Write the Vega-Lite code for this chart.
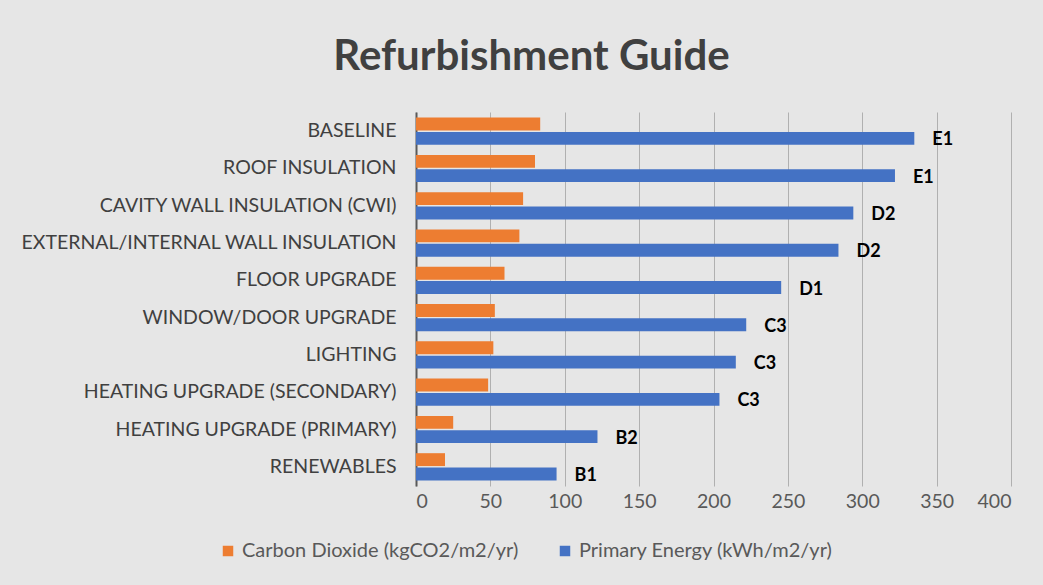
{
  "$schema": "https://vega.github.io/schema/vega-lite/v6.json",
  "autosize": {"type": "none"},
  "width": 595,
  "height": 374,
  "padding": {"left": 416, "top": 112, "right": 32, "bottom": 99},
  "background": "#e6e6e6",
  "title": {
    "text": "Refurbishment Guide",
    "font": "Lato",
    "fontSize": 42,
    "fontWeight": "bold",
    "color": "#404040",
    "anchor": "middle",
    "dx": -182,
    "baseline": "alphabetic",
    "offset": 0
  },
  "data": {
    "values": [
      {"category": "BASELINE", "series": "Carbon Dioxide (kgCO2/m2/yr)", "value": 83.5, "rating": ""},
      {"category": "BASELINE", "series": "Primary Energy (kWh/m2/yr)", "value": 335, "rating": "E1"},
      {"category": "ROOF INSULATION", "series": "Carbon Dioxide (kgCO2/m2/yr)", "value": 80, "rating": ""},
      {"category": "ROOF INSULATION", "series": "Primary Energy (kWh/m2/yr)", "value": 322, "rating": "E1"},
      {"category": "CAVITY WALL INSULATION (CWI)", "series": "Carbon Dioxide (kgCO2/m2/yr)", "value": 72, "rating": ""},
      {"category": "CAVITY WALL INSULATION (CWI)", "series": "Primary Energy (kWh/m2/yr)", "value": 294, "rating": "D2"},
      {"category": "EXTERNAL/INTERNAL WALL INSULATION", "series": "Carbon Dioxide (kgCO2/m2/yr)", "value": 69.5, "rating": ""},
      {"category": "EXTERNAL/INTERNAL WALL INSULATION", "series": "Primary Energy (kWh/m2/yr)", "value": 284, "rating": "D2"},
      {"category": "FLOOR UPGRADE", "series": "Carbon Dioxide (kgCO2/m2/yr)", "value": 59.5, "rating": ""},
      {"category": "FLOOR UPGRADE", "series": "Primary Energy (kWh/m2/yr)", "value": 245.5, "rating": "D1"},
      {"category": "WINDOW/DOOR UPGRADE", "series": "Carbon Dioxide (kgCO2/m2/yr)", "value": 53, "rating": ""},
      {"category": "WINDOW/DOOR UPGRADE", "series": "Primary Energy (kWh/m2/yr)", "value": 222, "rating": "C3"},
      {"category": "LIGHTING", "series": "Carbon Dioxide (kgCO2/m2/yr)", "value": 52, "rating": ""},
      {"category": "LIGHTING", "series": "Primary Energy (kWh/m2/yr)", "value": 215, "rating": "C3"},
      {"category": "HEATING UPGRADE (SECONDARY)", "series": "Carbon Dioxide (kgCO2/m2/yr)", "value": 48.5, "rating": ""},
      {"category": "HEATING UPGRADE (SECONDARY)", "series": "Primary Energy (kWh/m2/yr)", "value": 204, "rating": "C3"},
      {"category": "HEATING UPGRADE (PRIMARY)", "series": "Carbon Dioxide (kgCO2/m2/yr)", "value": 25, "rating": ""},
      {"category": "HEATING UPGRADE (PRIMARY)", "series": "Primary Energy (kWh/m2/yr)", "value": 122, "rating": "B2"},
      {"category": "RENEWABLES", "series": "Carbon Dioxide (kgCO2/m2/yr)", "value": 19.5, "rating": ""},
      {"category": "RENEWABLES", "series": "Primary Energy (kWh/m2/yr)", "value": 94.5, "rating": "B1"}
    ]
  },
  "encoding": {
    "y": {
      "field": "category",
      "type": "nominal",
      "sort": null,
      "scale": {"paddingInner": 0.27, "paddingOuter": 0.15},
      "axis": {
        "title": null,
        "labelFont": "Lato",
        "labelFontSize": 19.5,
        "labelColor": "#404040",
        "labelPadding": 20,
        "labelLimit": 0,
        "ticks": false,
        "domain": true,
        "domainColor": "#595959",
        "domainWidth": 2,
        "grid": false
      }
    },
    "yOffset": {
      "field": "series",
      "type": "nominal",
      "sort": ["Carbon Dioxide (kgCO2/m2/yr)", "Primary Energy (kWh/m2/yr)"],
      "scale": {"paddingInner": 0.1}
    },
    "x": {
      "field": "value",
      "type": "quantitative",
      "scale": {"domain": [0, 400], "nice": false},
      "axis": {
        "title": null,
        "values": [0, 50, 100, 150, 200, 250, 300, 350, 400],
        "grid": true,
        "gridColor": "#b0b0b0",
        "gridWidth": 1,
        "domain": false,
        "ticks": false,
        "labelFont": "Lato",
        "labelFontSize": 19.5,
        "labelColor": "#595959",
        "labelPadding": 6
      }
    }
  },
  "layer": [
    {
      "mark": {"type": "bar"},
      "encoding": {
        "color": {
          "field": "series",
          "type": "nominal",
          "scale": {
            "domain": ["Carbon Dioxide (kgCO2/m2/yr)", "Primary Energy (kWh/m2/yr)"],
            "range": ["#ED7D31", "#4472C4"]
          },
          "legend": {
            "title": null,
            "orient": "none",
            "legendX": -198,
            "legendY": 429,
            "direction": "horizontal",
            "symbolType": "square",
            "symbolSize": 110,
            "symbolStrokeWidth": 0,
            "labelFont": "Lato",
            "labelFontSize": 20,
            "labelColor": "#595959",
            "labelOffset": 4,
            "labelLimit": 0,
            "columnPadding": 36
          }
        }
      }
    },
    {
      "transform": [{"filter": "datum.rating != ''"}],
      "mark": {
        "type": "text",
        "align": "left",
        "baseline": "middle",
        "dx": 18,
        "dy": 2,
        "font": "Lato",
        "fontSize": 18,
        "fontWeight": "bold",
        "color": "#000000"
      },
      "encoding": {
        "text": {"field": "rating", "type": "nominal"}
      }
    }
  ],
  "config": {
    "view": {"stroke": null}
  }
}
